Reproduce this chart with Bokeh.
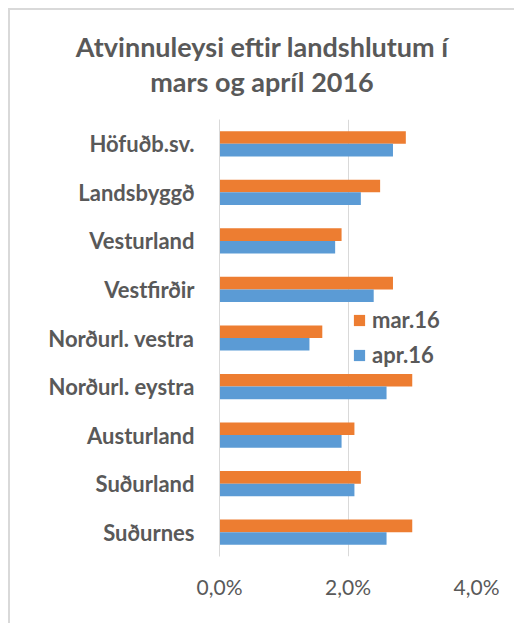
from bokeh.plotting import figure
from bokeh.layouts import column
from bokeh.models import (ColumnDataSource, FactorRange, FixedTicker, Legend, LegendItem, Div)
from bokeh.transform import dodge
from bokeh.embed import file_html
from bokeh.resources import INLINE

categories = ["Höfuðb.sv.", "Landsbyggð", "Vesturland", "Vestfirðir", "Norðurl. vestra",
              "Norðurl. eystra", "Austurland", "Suðurland", "Suðurnes"]
mar16 = [2.9, 2.5, 1.9, 2.7, 1.6, 3.0, 2.1, 2.2, 3.0]
apr16 = [2.7, 2.2, 1.8, 2.4, 1.4, 2.6, 1.9, 2.1, 2.6]
series_names = ["mar.16", "apr.16"]
x_ticks = [0, 2, 4]
x_tick_labels = ["0,0%", "2,0%", "4,0%"]
title_lines = ["Atvinnuleysi eftir landshlutum í", "mars og apríl 2016"]

ORANGE = "#ED7D31"
BLUE = "#5B9BD5"
GREY_TXT = "#595959"
GRID = "#D9D9D9"
FONT = "Lato"
W = 504

# ---- title (real text, centred over the whole chart area) ----
title = Div(text=('<div style="font-family:Lato; font-weight:bold; font-size:27px; '
                  'color:#595959; text-align:center; line-height:35px; padding-top:19px; '
                  'width:504px; margin:0;">' + "<br>".join(title_lines) + '</div>'),
            width=W, height=109, margin=0)

# ---- main chart ----
src = ColumnDataSource(dict(cat=categories, mar=mar16, apr=apr16))

p = figure(width=W, height=504, output_backend="svg", toolbar_location=None,
           y_range=FactorRange(*reversed(categories)), x_range=(0, 4),
           min_border_left=209, min_border_right=38, min_border_top=0, min_border_bottom=67)
p.outline_line_color = None
p.background_fill_color = "white"
p.border_fill_color = "white"

r_mar = p.hbar(y=dodge("cat", 0.13, range=p.y_range), right="mar", left=0, height=0.26,
               source=src, color=ORANGE, line_color=None)
r_apr = p.hbar(y=dodge("cat", -0.13, range=p.y_range), right="apr", left=0, height=0.26,
               source=src, color=BLUE, line_color=None)

# x axis
p.xaxis.ticker = FixedTicker(ticks=x_ticks)
p.xaxis.major_label_overrides = {tk: lb for tk, lb in zip(x_ticks, x_tick_labels)}
p.xaxis.axis_line_color = None
p.xaxis.major_tick_line_color = None
p.xaxis.minor_tick_line_color = None
p.xaxis.major_label_text_font = FONT
p.xaxis.major_label_text_font_size = "21px"
p.xaxis.major_label_text_color = GREY_TXT
p.xaxis.major_label_standoff = 11
p.xgrid.grid_line_color = GRID
p.ygrid.grid_line_color = None

# y axis
p.yaxis.axis_line_color = GRID
p.yaxis.major_tick_line_color = None
p.yaxis.minor_tick_line_color = None
p.yaxis.major_label_text_font = FONT
p.yaxis.major_label_text_font_size = "22px"
p.yaxis.major_label_text_font_style = "bold"
p.yaxis.major_label_text_color = GREY_TXT
p.yaxis.major_label_standoff = 19

# legend
legend = Legend(items=[LegendItem(label=series_names[0], renderers=[r_mar]),
                       LegendItem(label=series_names[1], renderers=[r_apr])],
                location=(133, 188), orientation="vertical",
                background_fill_alpha=0, border_line_color=None,
                label_text_font=FONT, label_text_font_size="22px", label_text_font_style="bold",
                label_text_color=GREY_TXT, glyph_width=14, glyph_height=14,
                label_standoff=6, spacing=8, padding=0, margin=0, label_height=20)
p.add_layout(legend, "center")

layout = column(title, p, spacing=0,
                styles={"margin-left": "8px", "margin-top": "8px",
                        "border-left": "2px solid #D9D9D9", "border-top": "2px solid #D9D9D9"})

open("out.html", "w").write(file_html(layout, INLINE))
